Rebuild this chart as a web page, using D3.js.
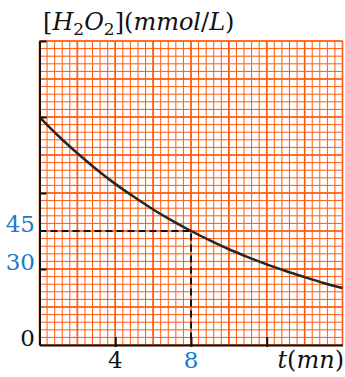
<!DOCTYPE html>
<html>
<head>
<meta charset="utf-8">
<script src="https://cdn.jsdelivr.net/npm/d3@7"></script>
<style>
  html, body { margin: 0; padding: 0; background: #fff; }
  svg { display: block; }
</style>
</head>
<body>
<div id="chart"></div>
<script>
// Curve: time in minutes, concentration in mmol/L
const times = [0, 1, 2, 3, 4, 5, 6, 7, 8, 9, 10, 11, 12, 13, 14, 15, 16];
const conc = [90, 82.5, 75.7, 69.4, 63.6, 58.4, 53.5, 49.1, 45, 41.3, 37.8, 34.7, 31.8, 29.2, 26.8, 24.5, 22.5];

const xTicks = [4, 8, 12];
const yTicks = [30, 60, 90, 120];
const xLabels = ['4', '8'];
const xLabelVals = [4, 8];
const yLabels = ['0', '30', '45'];
const yLabelVals = [0, 30, 45];
const markT = 8;
const markC = 45;

const width = 345, height = 377;
const blue = '#1b7bc4';
const orange = '#ff5a0d';

const x = d3.scaleLinear().domain([0, 16]).range([39.5, 342.5]);
const y = d3.scaleLinear().domain([0, 120]).range([345, 41]);

const svg = d3.select('#chart').append('svg')
    .attr('width', width)
    .attr('height', height);

// Graph paper: minor lines every 0.4 min / 3 mmol/L, heavier every 2 min / 15 mmol/L
const grid = svg.append('g');
const vMinor = d3.range(0, 16.001, 0.4);
const hMinor = d3.range(0, 120.001, 3);
grid.selectAll('line.vm').data(vMinor).enter().append('line')
    .attr('x1', d => x(d)).attr('x2', d => x(d))
    .attr('y1', y(0)).attr('y2', y(120))
    .attr('stroke', orange).attr('stroke-width', 1);
grid.selectAll('line.hm').data(hMinor).enter().append('line')
    .attr('y1', d => y(d)).attr('y2', d => y(d))
    .attr('x1', x(0)).attr('x2', x(16))
    .attr('stroke', orange).attr('stroke-width', 1);
grid.selectAll('line.vM').data(d3.range(0, 16.001, 2)).enter().append('line')
    .attr('x1', d => x(d)).attr('x2', d => x(d))
    .attr('y1', y(0)).attr('y2', y(120))
    .attr('stroke', orange).attr('stroke-width', 1.6);
grid.selectAll('line.hM').data(d3.range(0, 120.001, 15)).enter().append('line')
    .attr('y1', d => y(d)).attr('y2', d => y(d))
    .attr('x1', x(0)).attr('x2', x(16))
    .attr('stroke', orange).attr('stroke-width', 1.6);

// Dashed guide for t = 8, C = 45
svg.append('path')
    .attr('d', `M${x(0)},${y(markC)}H${x(markT)}V${y(0)}`)
    .attr('fill', 'none')
    .attr('stroke', '#111')
    .attr('stroke-width', 2)
    .attr('stroke-dasharray', '7,4');

// Curve
const line = d3.line().x((d, i) => x(times[i])).y(d => y(d)).curve(d3.curveMonotoneX);
svg.append('path')
    .datum(conc)
    .attr('d', line)
    .attr('fill', 'none')
    .attr('stroke', '#262626')
    .attr('stroke-width', 2.5);

// Axes (tick marks only, labels drawn separately)
svg.append('g')
    .attr('transform', `translate(${x(0)},0)`)
    .call(d3.axisLeft(y).tickValues(yTicks).tickSizeInner(-7).tickSizeOuter(0).tickFormat(''));
const xAxis = svg.append('g')
    .attr('transform', `translate(0,${y(0)})`)
    .call(d3.axisBottom(x).tickValues(xTicks).tickSizeInner(-8).tickSizeOuter(0).tickFormat(''));
xAxis.selectAll('.tick line').attr('y2', -8).attr('y1', 2);
svg.selectAll('.domain').attr('stroke', '#111').attr('stroke-width', 2);
svg.selectAll('.tick line').attr('stroke', '#111').attr('stroke-width', 2);

// Labels
const font = '"DejaVu Serif", serif';
svg.selectAll('text.yl').data(yLabels).enter().append('text')
    .attr('x', 35)
    .attr('y', (d, i) => y(yLabelVals[i]) + 1)
    .attr('text-anchor', 'end')
    .attr('font-family', font)
    .attr('font-size', 23)
    .attr('fill', (d, i) => i === 0 ? '#111' : blue)
    .text(d => d);

svg.selectAll('text.xl').data(xLabels).enter().append('text')
    .attr('x', (d, i) => x(xLabelVals[i]))
    .attr('y', 368)
    .attr('text-anchor', 'middle')
    .attr('font-family', font)
    .attr('font-size', 23)
    .attr('fill', (d, i) => i === 0 ? '#111' : blue)
    .text(d => d);

const tl = svg.append('text')
    .attr('x', 344)
    .attr('y', 368)
    .attr('text-anchor', 'end')
    .attr('font-family', font)
    .attr('font-size', 24)
    .attr('fill', '#111');
tl.append('tspan').attr('font-style', 'italic').text('t');
tl.append('tspan').text('(');
tl.append('tspan').attr('font-style', 'italic').text('mn');
tl.append('tspan').text(')');

const title = svg.append('text')
    .attr('x', 43)
    .attr('y', 30)
    .attr('font-family', font)
    .attr('font-size', 24)
    .attr('fill', '#111');
title.append('tspan').text('[');
title.append('tspan').attr('font-style', 'italic').text('H');
title.append('tspan').attr('font-size', 17).attr('dy', 5).text('2');
title.append('tspan').attr('font-style', 'italic').attr('dy', -5).text('O');
title.append('tspan').attr('font-size', 17).attr('dy', 5).text('2');
title.append('tspan').attr('dy', -5).text('](');
title.append('tspan').attr('font-style', 'italic').text('mmol');
title.append('tspan').text('/');
title.append('tspan').attr('font-style', 'italic').text('L');
title.append('tspan').text(')');
</script>
</body>
</html>
